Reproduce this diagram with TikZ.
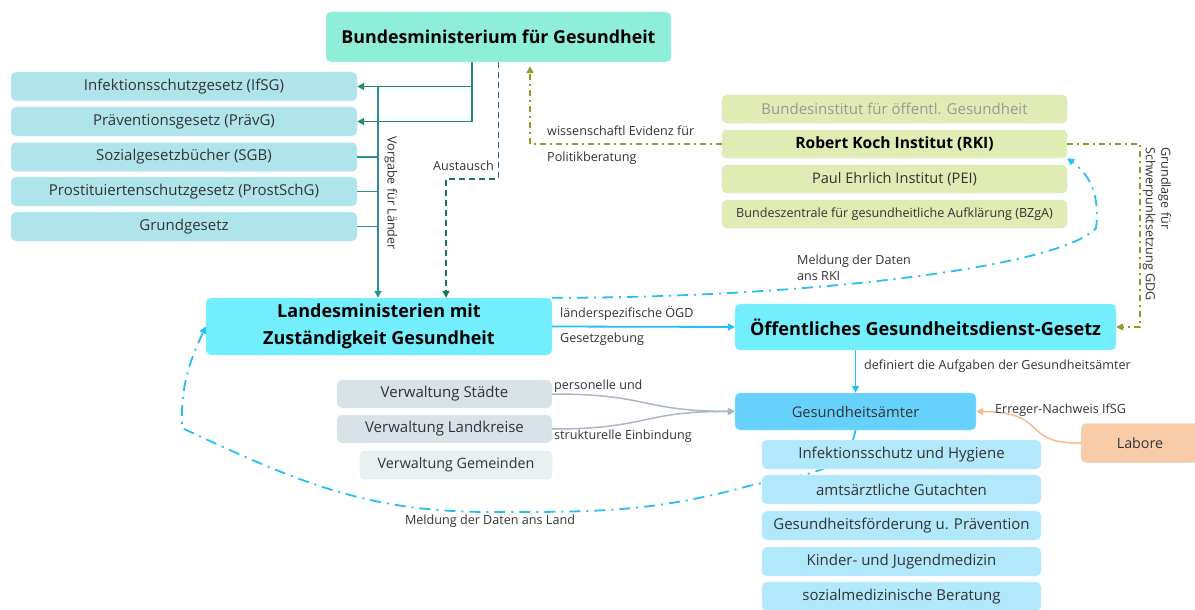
\documentclass[tikz,border=0pt]{standalone}
\usepackage{fontspec}
\setmainfont{Open Sans}
\usetikzlibrary{arrows.meta}

\definecolor{bmgfill}{HTML}{8EEED8}
\definecolor{lawfill}{HTML}{B0E4EB}
\definecolor{instfill}{HTML}{E1EBB4}
\definecolor{instline}{HTML}{C4EBC6}
\definecolor{landfill}{HTML}{73EEFC}
\definecolor{gesafill}{HTML}{66D2FB}
\definecolor{taskfill}{HTML}{B2E8FB}
\definecolor{labfill}{HTML}{F8CCA8}
\definecolor{verwfill}{HTML}{D8E2E7}
\definecolor{gemfill}{HTML}{E9F0F2}
\definecolor{tealarr}{HTML}{1E8A72}
\definecolor{tealln}{HTML}{2B8F98}
\definecolor{olive}{HTML}{8A9E2A}
\definecolor{skyln}{HTML}{27BDF5}
\definecolor{grayln}{HTML}{A9B7C6}
\definecolor{peachln}{HTML}{F9B98B}
\definecolor{txt}{HTML}{333333}

\begin{document}
\begin{tikzpicture}[x=1pt,y=-1pt,
  box/.style={rounded corners=5pt, inner sep=0pt, text=txt, font=\fontsize{15}{18}\selectfont},
  lawbox/.style={box, fill=lawfill, draw=lawfill!60!white, minimum width=346pt, minimum height=29pt},
  instbox/.style={box, fill=instfill, draw=instline, minimum width=345pt, minimum height=28pt},
  taskbox/.style={box, fill=taskfill, draw=taskfill!60!white, minimum width=279pt, minimum height=29pt},
  lbl/.style={inner sep=0pt, text=txt, font=\fontsize{12.6}{15.5}\selectfont},
  tip/.style={-{Triangle[length=7pt,width=7pt]}},
  dashdot/.style={dash pattern=on 6pt off 4pt on 2pt off 4pt},
  longdashdot/.style={dash pattern=on 11pt off 6pt on 2pt off 6pt}]
\useasboundingbox (0,0) rectangle (1195,610);

% Bund
\node[box, fill=bmgfill, draw=bmgfill!60!white, minimum width=345pt, minimum height=50pt, text=black,
  font=\fontsize{17.8}{21}\selectfont\bfseries] (bmg) at (498.5,37) {Bundesministerium für Gesundheit};

% Gesetze
\node[lawbox] (ifsg) at (184,86.5) {Infektionsschutzgesetz (IfSG)};
\node[lawbox] (praevg) at (184,121.5) {Präventionsgesetz (PrävG)};
\node[lawbox] (sgb) at (184,157) {Sozialgesetzbücher (SGB)};
\node[lawbox] (prost) at (184,191.5) {Prostituiertenschutzgesetz (ProstSchG)};
\node[lawbox] (gg) at (184,226.5) {Grundgesetz};

% Bundesinstitute
\node[instbox, text=black!40] (bioeg) at (894.5,109) {Bundesinstitut für öffentl. Gesundheit};
\node[instbox, text=black, font=\fontsize{15.6}{18}\selectfont\bfseries] (rki) at (894.5,144) {Robert Koch Institut (RKI)};
\node[instbox, font=\fontsize{14.6}{17}\selectfont] (pei) at (894.5,179) {Paul Ehrlich Institut (PEI)};
\node[instbox, font=\fontsize{12.6}{15}\selectfont] (bzga) at (894.5,214) {Bundeszentrale für gesundheitliche Aufklärung (BZgA)};

% Land und Kommunen
\node[box, fill=landfill, draw=landfill!60!white, minimum width=346pt, minimum height=57pt, text=black, align=center,
  font=\fontsize{18}{27}\selectfont\bfseries] (land) at (379,326.5) {Landesministerien mit\\Zuständigkeit Gesundheit};
\node[box, fill=landfill, draw=landfill!60!white, minimum width=381pt, minimum height=46pt, text=black,
  font=\fontsize{18.1}{21}\selectfont\bfseries] (oegd) at (925.5,327) {Öffentliches Gesundheitsdienst-Gesetz};
\node[box, fill=gesafill, draw=gesafill!60!white, minimum width=241pt, minimum height=37pt, font=\fontsize{14.7}{17}\selectfont] (gesa) at (855.5,411.5) {Gesundheitsämter};
\node[box, fill=labfill, draw=instline, minimum width=118pt, minimum height=39pt, font=\fontsize{14.3}{17}\selectfont] (labore) at (1140,443) {Labore};
\node[box, fill=verwfill, draw=verwfill!60!white, minimum width=215pt, minimum height=28pt] (staedte) at (444.5,394) {Verwaltung Städte};
\node[box, fill=verwfill, draw=verwfill!60!white, minimum width=215pt, minimum height=28pt] (kreise) at (444.5,429) {Verwaltung Landkreise};
\node[box, fill=gemfill, draw=verwfill, minimum width=192pt, minimum height=28pt, font=\fontsize{14.3}{17}\selectfont] (gemeinden) at (456,465) {Verwaltung Gemeinden};

% Meldung ans Land (hinter den Aufgaben)
\coordinate (ml1) at (745,487);
\coordinate (ml2) at (490,512);
\coordinate (ml3) at (182,428);
\draw[skyln, line width=1.8pt, longdashdot, tip] (gesa.south) to[out=-100,in=15] (ml1) to[out=195,in=0] (ml2)
  to[out=180,in=-25] (ml3) to[out=92,in=-115] (land.west);

% Aufgaben
\node[taskbox] (hyg) at (901.5,454.5) {Infektionsschutz und Hygiene};
\node[taskbox] (gut) at (901.5,489.5) {amtsärztliche Gutachten};
\node[taskbox] (foerd) at (901.5,525.5) {Gesundheitsförderung u. Prävention};
\node[taskbox] (kjm) at (901.5,561.5) {Kinder- und Jugendmedizin};
\node[taskbox] (sozb) at (901.5,596.5) {sozialmedizinische Beratung};

% Vorgaben Bund
\draw[tealarr, line width=1.8pt, tip] ([xshift=-26.5pt]bmg.south) |- (ifsg.east);
\draw[tealarr, line width=1.8pt, tip] ([xshift=-26.5pt]bmg.south) |- (praevg.east);
\coordinate (vtop) at (378,86.5);
\draw[tealln, line width=1.8pt, tip] (vtop) -- (vtop |- land.north);
\draw[tealln, line width=1.8pt] (sgb.east) -- (sgb.east -| vtop);
\draw[tealln, line width=1.8pt] (prost.east) -- (prost.east -| vtop);
\draw[tealln, line width=1.8pt] (gg.east) -- (gg.east -| vtop);
\node[lbl, rotate=-90] (vorgabe) at (391,193) {Vorgabe für Länder};

\coordinate (aus) at (446,179);
\draw[tealarr!85!black, line width=1.8pt, dash pattern=on 6pt off 4pt, tip] (bmg.south) |- (aus) -- (aus |- land.north);
\node[lbl, anchor=east] (austausch) at (494,166) {Austausch};

% Evidenz und GDG
\draw[olive, line width=1.5pt, dashdot, tip] (rki.west) -| ([xshift=31.5pt,yshift=-4pt]bmg.south);
\node[lbl, anchor=west] (evid1) at (547,131) {wissenschaftl Evidenz für};
\node[lbl, anchor=west] (evid2) at (547,158) {Politikberatung};
\draw[olive, line width=1.5pt, dashdot, tip] (rki.east) -| ([xshift=24pt]oegd.east) -- (oegd.east);
\node[lbl, rotate=-90, align=left] (grundl) at (1157,224) {Grundlage für\\Schwerpunktsetzung GDG};

% Meldung ans RKI
\coordinate (mr1) at (1096,228);
\draw[skyln, line width=1.8pt, longdashdot, tip] (land.north east) .. controls (800,298) and (1060,268) .. (mr1)
  .. controls (1100,195) and (1090,175) .. (rki.south east);
\node[lbl, anchor=west, align=left] (meldrki) at (797,268) {Meldung der Daten\\ans RKI};

% Land -> OEGD -> Gesundheitsaemter
\draw[skyln, line width=1.8pt, tip] (land.east) -- (oegd.west);
\node[lbl, anchor=west] (lspez) at (560,313) {länderspezifische ÖGD};
\node[lbl, anchor=west] (gesetzg) at (560,339) {Gesetzgebung};
\draw[skyln, line width=1.8pt, tip] (gesa.north |- oegd.south) -- (gesa.north);
\node[lbl, anchor=west] (defin) at (864,366) {definiert die Aufgaben der Gesundheitsämter};

% Einbindung Kommunen
\draw[grayln, line width=1.5pt, tip] (staedte.east) .. controls (650,394) and (640,411) .. (gesa.west);
\draw[grayln, line width=1.5pt, tip] (kreise.east) .. controls (650,429) and (640,411) .. (gesa.west);
\node[lbl, anchor=west] (pers) at (554,386) {personelle und};
\node[lbl, anchor=west] (strukt) at (554,436) {strukturelle Einbindung};

% Labore
\draw[peachln, line width=1.5pt, tip] (labore.west) .. controls (1020,444) and (1050,412) .. (gesa.east);
\node[lbl, anchor=west] (erreger) at (995,410) {Erreger-Nachweis IfSG};

\node[lbl] (meldland) at (490,521) {Meldung der Daten ans Land};
\end{tikzpicture}
\end{document}
